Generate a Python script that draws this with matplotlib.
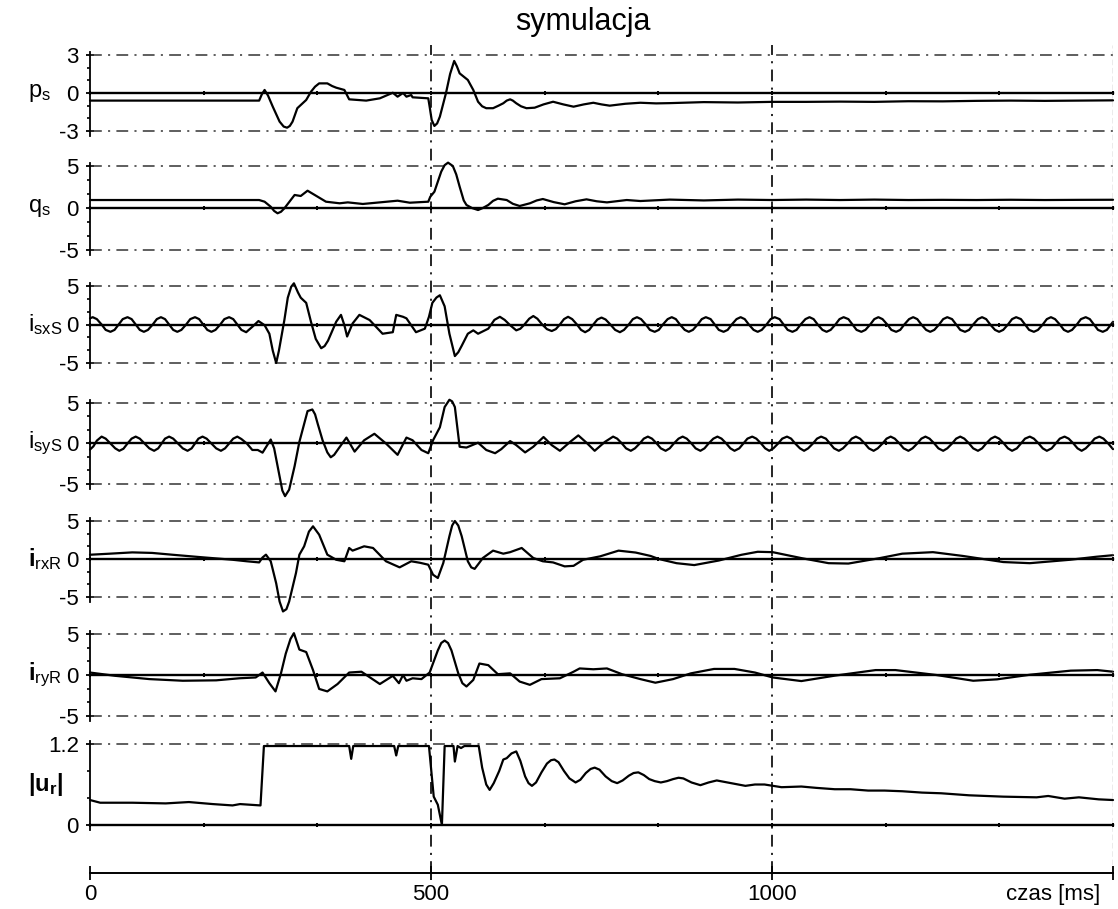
import numpy as np
import matplotlib
matplotlib.use('Agg')
import matplotlib.pyplot as plt

W, H = 1118, 909

plt.rcParams['font.family'] = 'Liberation Sans'
plt.rcParams['mathtext.fontset'] = 'custom'
plt.rcParams['mathtext.rm'] = 'Liberation Sans'
plt.rcParams['mathtext.bf'] = 'Liberation Sans:bold'
plt.rcParams['mathtext.it'] = 'Liberation Sans:italic'
plt.rcParams['axes.unicode_minus'] = False
plt.rcParams['lines.scale_dashes'] = False

TITLE = 'symulacja'
X_LABEL = 'czas [ms]'
X_TICKS = [0, 500, 1000, 1500]
X_MAX = 1500

LABELS = [r'$\mathregular{p_s}$', r'$\mathregular{q_s}$', r'$\mathregular{i_{sxS}}$',
          r'$\mathregular{i_{syS}}$', r'$\mathbf{i}_\mathregular{rxR}$',
          r'$\mathbf{i}_\mathregular{ryR}$', r'$\mathbf{|u_r|}$']
Y_LIMITS = [(-3, 3), (-5, 5), (-5, 5), (-5, 5), (-5, 5), (-5, 5), (0, 1.2)]

# (time ms, value)
ps = [(0, -0.6), (248, -0.6), (252, -0.1), (256, 0.24), (261, -0.2), (268, -1.08), (278, -2.26),
      (284, -2.65), (289, -2.74), (293, -2.6), (297, -2.26), (304, -1.2), (317, -0.55), (324, 0.1),
      (330, 0.5), (336, 0.76), (348, 0.76), (355, 0.55), (361, 0.42), (373, 0.24), (380, -0.5),
      (405, -0.6), (425, -0.42), (444, 0.02), (451, -0.29), (459, 0.0), (464, -0.29), (471, -0.16),
      (473, -0.34), (496, -0.42), (498, -1.08), (501, -2.13), (505, -2.6), (509, -2.4), (513, -1.87),
      (522, 0.0), (528, 1.5), (534, 2.53), (538, 2.1), (542, 1.55), (554, 1.03), (562, 0.24),
      (569, -0.69), (575, -1.05), (581, -1.2), (591, -1.2), (599, -1.0), (606, -0.81), (611, -0.6),
      (616, -0.5), (620, -0.6), (625, -0.81), (632, -1.05), (640, -1.2), (652, -1.16), (665, -0.9),
      (679, -0.69), (694, -0.9), (709, -1.08), (724, -0.9), (738, -0.77), (750, -0.9), (762, -1.0),
      (785, -0.85), (807, -0.77), (830, -0.82), (850, -0.8), (900, -0.72), (950, -0.75),
      (1000, -0.7), (1050, -0.7), (1100, -0.68), (1150, -0.7), (1200, -0.65), (1250, -0.66),
      (1300, -0.62), (1350, -0.6), (1400, -0.62), (1450, -0.6), (1500, -0.58)]

qs = [(0, 0.95), (248, 0.95), (256, 0.75), (265, 0.15), (270, -0.35), (275, -0.63), (280, -0.45),
      (285, -0.04), (300, 1.55), (309, 1.43), (319, 2.06), (332, 1.43), (346, 0.75), (366, 0.56),
      (378, 0.67), (400, 0.48), (425, 0.67), (451, 0.87), (469, 0.63), (496, 0.75), (499, 1.35),
      (505, 1.94), (515, 4.33), (520, 5.1), (525, 5.4), (532, 5.0), (537, 4.0), (542, 2.54),
      (548, 0.9), (552, 0.36), (560, 0.0), (569, -0.24), (576, 0.0), (584, 0.36), (591, 0.85),
      (598, 1.11), (611, 0.95), (620, 0.5), (630, 0.24), (645, 0.56), (655, 0.9), (664, 1.07),
      (680, 0.7), (696, 0.44), (712, 0.8), (728, 1.03), (743, 0.8), (758, 0.67), (787, 0.95),
      (807, 0.83), (850, 1.0), (900, 0.9), (950, 1.0), (1000, 0.95), (1050, 1.0),
      (1100, 0.95), (1150, 1.0), (1200, 0.95), (1250, 0.97), (1300, 0.95), (1350, 0.98),
      (1400, 0.95), (1450, 0.97), (1500, 0.98)]

isxs = [(0, 0.8), (4, 0.95), (10, 0.7), (17, 0), (23, -0.7), (30, -0.95), (36, -0.7), (42, 0), (48, 0.7),
        (55, 0.95), (61, 0.7), (67, 0), (73, -0.7), (79, -0.95), (85, -0.7), (92, 0), (98, 0.7),
        (104, 0.95), (110, 0.7), (116, 0), (122, -0.7), (128, -0.95), (134, -0.7), (141, 0), (147, 0.7),
        (154, 0.95), (160, 0.7), (166, 0), (172, -0.7), (178, -0.95), (184, -0.7), (191, 0), (197, 0.7),
        (204, 0.95), (210, 0.7), (216, 0), (222, -0.7), (229, -1.0), (238, -0.3), (247, 0.45),
        (256, -0.09), (263, -1.2), (268, -3.4), (273, -5.0), (277, -3.4), (285, 0.58), (290, 3.48),
        (295, 4.9), (299, 5.35), (305, 4.15), (309, 3.48), (317, 2.81), (324, 0.36), (331, -1.87),
        (339, -3.08), (344, -2.8), (349, -2.1), (361, 0.36), (368, 1.25), (373, -0.09), (377, -1.56),
        (385, 0.13), (395, 1.25), (410, 0.58), (429, -1.2), (444, -1.0), (449, 1.25), (459, 1.0),
        (464, 0.8), (478, -1.0), (491, -0.54), (497, 1.0), (502, 2.81), (508, 3.5), (513, 3.8),
        (520, 2.36), (527, -1.2), (535, -4.1), (540, -3.6), (545, -2.77), (554, -1.2), (562, -0.76),
        (569, -1.2), (584, -0.54), (593, 0.6), (601, 1.0), (608, 0.6), (616, -0.09),
        (625, -0.76), (631, -0.55), (637, 0), (644, 0.75), (650, 1.1), (656, 0.75), (663, 0),
        (670, -0.6), (677, -0.85), (683, -0.6), (689, 0), (695, 0.7), (701, 1.0), (707, 0.7), (714, 0),
        (720, -0.7), (726, -1.0), (732, -0.7), (738, 0), (744, 0.65), (750, 0.9), (756, 0.65), (763, 0),
        (770, -0.7), (777, -1.0), (783, -0.7), (790, 0), (796, 0.7), (802, 0.95), (808, 0.7), (815, 0),
        (821, -0.7), (828, -0.95), (834, -0.7), (840, 0), (847, 0.7), (853, 0.95), (859, 0.7), (865, 0),
        (872, -0.7), (878, -0.95), (884, -0.7), (891, 0), (897, 0.7), (903, 0.95), (910, 0.7), (916, 0),
        (922, -0.7), (929, -0.95), (935, -0.7), (941, 0), (948, 0.7), (954, 0.95), (960, 0.7), (966, 0),
        (973, -0.7), (979, -0.95), (985, -0.7), (992, 0), (998, 0.7), (1004, 0.95), (1011, 0.7),
        (1017, 0), (1023, -0.7), (1030, -0.95), (1036, -0.7), (1042, 0), (1049, 0.7), (1055, 0.95),
        (1061, 0.7), (1067, 0), (1074, -0.7), (1080, -0.95), (1086, -0.7), (1093, 0), (1099, 0.7),
        (1105, 0.95), (1112, 0.7), (1118, 0), (1124, -0.7), (1131, -0.95), (1137, -0.7), (1144, 0),
        (1150, 0.7), (1156, 0.95), (1162, 0.7), (1169, 0), (1175, -0.7), (1182, -0.95), (1188, -0.7),
        (1194, 0), (1201, 0.7), (1207, 0.95), (1213, 0.7), (1219, 0), (1226, -0.7), (1232, -0.95),
        (1238, -0.7), (1245, 0), (1251, 0.7), (1257, 0.95), (1264, 0.7), (1270, 0), (1276, -0.7),
        (1283, -0.95), (1289, -0.7), (1295, 0), (1302, 0.7), (1308, 0.95), (1314, 0.7), (1320, 0),
        (1327, -0.7), (1333, -0.95), (1339, -0.7), (1346, 0), (1352, 0.7), (1358, 0.95), (1365, 0.7),
        (1371, 0), (1377, -0.7), (1384, -0.95), (1390, -0.7), (1397, 0), (1403, 0.7), (1409, 0.95),
        (1415, 0.7), (1422, 0), (1428, -0.7), (1434, -0.95), (1440, -0.7), (1447, 0), (1453, 0.7),
        (1460, 0.95), (1466, 0.7), (1472, 0), (1478, -0.7), (1485, -0.95), (1491, -0.7), (1497, 0),
        (1500, 0.35)]

isys = [(0, -0.75), (5, -0.35), (10, 0.35), (17, 0.85), (23, 0.6), (30, 0), (37, -0.6), (43, -0.9),
        (49, -0.65), (55, 0), (61, 0.6), (67, 0.85), (73, 0.6), (80, 0), (87, -0.6), (94, -0.9),
        (100, -0.6), (105, 0), (110, 0.6), (116, 0.85), (122, 0.6), (129, 0), (136, -0.6), (143, -0.9),
        (149, -0.6), (154, 0), (159, 0.6), (165, 0.85), (171, 0.6), (178, 0), (185, -0.6), (192, -0.9),
        (198, -0.6), (204, 0), (210, 0.6), (216, 0.85), (222, 0.55), (230, 0), (238, -0.8), (246, -0.8),
        (253, -1.13), (265, 0.49), (270, -0.6), (278, -4.1), (282, -5.8), (286, -6.5), (292, -5.7),
        (300, -2.8), (307, 0.2), (314, 2.4), (319, 4.0), (326, 4.2), (330, 3.6), (334, 2.4), (341, 0.4),
        (348, -1.1), (353, -1.7), (358, -1.4), (363, -0.8), (376, 0.73), (388, -1.0), (402, 0.4),
        (417, 1.2), (434, 0), (451, -1.4), (464, 0.73), (473, 0.4), (486, -0.8), (496, -1.2), (503, 0.4),
        (513, 2.0), (520, 4.5), (527, 5.4), (531, 5.2), (535, 4.5), (542, -0.4), (552, -0.5), (569, 0.1),
        (581, -0.8), (594, -1.2), (603, -0.7), (616, 0.3), (625, -0.2), (638, -1.1), (650, -0.4),
        (665, 0.8), (677, -0.2), (689, -0.9), (704, 0.2), (716, 1.0), (728, 0.1), (740, -0.9),
        (755, 0.2), (767, 0.85), (773, 0.6), (780, 0), (786, -0.6), (793, -0.9),
        (799, -0.6), (806, 0), (812, 0.6), (818, 0.85), (824, 0.6), (831, 0), (837, -0.6), (844, -0.9),
        (850, -0.6), (856, 0), (863, 0.6), (869, 0.85), (875, 0.6), (882, 0), (888, -0.6), (895, -0.9),
        (901, -0.6), (907, 0), (914, 0.6), (920, 0.85), (926, 0.6), (933, 0), (939, -0.6), (945, -0.9),
        (952, -0.6), (958, 0), (964, 0.6), (971, 0.85), (977, 0.6), (984, 0), (990, -0.6), (996, -0.9),
        (1002, -0.6), (1009, 0), (1015, 0.6), (1022, 0.85), (1028, 0.6), (1034, 0), (1041, -0.6),
        (1047, -0.9), (1053, -0.6), (1060, 0), (1066, 0.6), (1072, 0.85), (1079, 0.6), (1085, 0),
        (1091, -0.6), (1098, -0.9), (1104, -0.6), (1111, 0), (1117, 0.6), (1123, 0.85), (1129, 0.6),
        (1136, 0), (1142, -0.6), (1149, -0.9), (1155, -0.6), (1162, 0), (1168, 0.6), (1174, 0.85),
        (1180, 0.6), (1187, 0), (1193, -0.6), (1200, -0.9), (1206, -0.6), (1213, 0), (1219, 0.6),
        (1225, 0.85), (1231, 0.6), (1238, 0), (1244, -0.6), (1251, -0.9), (1257, -0.6), (1264, 0),
        (1270, 0.6), (1276, 0.85), (1282, 0.6), (1289, 0), (1295, -0.6), (1302, -0.9), (1308, -0.6),
        (1314, 0), (1321, 0.6), (1327, 0.85), (1333, 0.6), (1340, 0), (1346, -0.6), (1352, -0.9),
        (1359, -0.6), (1365, 0), (1371, 0.6), (1378, 0.85), (1384, 0.6), (1391, 0), (1397, -0.6),
        (1403, -0.9), (1410, -0.6), (1416, 0), (1422, 0.6), (1429, 0.85), (1435, 0.6), (1442, 0),
        (1448, -0.6), (1454, -0.9), (1460, -0.6), (1467, 0), (1473, 0.6), (1480, 0.85), (1486, 0.6),
        (1493, 0), (1500, -0.7)]

irxr = [(0, 0.56), (29, 0.7), (62, 0.87), (91, 0.8), (121, 0.56), (160, 0.26), (209, -0.1), (230, -0.3),
        (248, -0.45), (253, 0.2), (258, 0.57), (265, -0.3), (273, -3.2), (278, -5.6), (283, -6.9),
        (288, -6.6), (292, -5.6), (302, -1.85), (307, 0.57), (314, 1.67), (321, 3.6), (327, 4.3),
        (336, 3.2), (348, 0.57), (361, -0.1), (373, -0.3), (380, 1.45), (385, 1.1), (402, 1.67),
        (415, 1.45), (434, -0.3), (454, -1.1), (471, -0.3), (484, -0.5), (496, -0.75), (503, -2.07),
        (510, -2.5), (518, -0.53), (527, 3.0), (531, 4.4), (535, 5.0), (540, 4.4), (545, 3.0),
        (554, -0.3), (559, -1.1), (564, -1.3), (570, -0.6), (576, 0.13), (591, 1.1), (606, 0.7),
        (616, 0.9), (633, 1.45), (650, 0.13), (664, -0.3), (679, -0.45), (696, -0.97), (709, -0.9),
        (723, -0.1), (748, 0.35), (775, 1.1), (800, 0.85), (822, 0.4), (834, 0), (860, -0.55),
        (886, -0.8), (922, -0.2), (955, 0.55), (979, 0.95), (1001, 0.9), (1044, 0.1), (1083, -0.55),
        (1112, -0.6), (1157, 0.1), (1191, 0.7), (1236, 0.9), (1280, 0.4), (1339, -0.4), (1378, -0.55),
        (1437, -0.1), (1476, 0.3), (1500, 0.5)]

iryr = [(0, 0.3), (37, -0.1), (87, -0.5), (136, -0.7), (185, -0.65), (219, -0.4), (243, -0.3), (253, 0.3),
        (263, -1.0), (272, -2.0), (280, 0.2), (287, 2.6), (294, 4.4), (299, 5.1), (307, 3.1), (317, 2.8),
        (327, 0.6), (336, -1.7), (348, -2.0), (363, -1.1), (380, 0.3), (398, 0.4), (425, -1.1),
        (444, -0.1), (453, -1.0), (459, 0), (464, -0.7), (473, -0.4), (486, -0.5), (498, 0.3), (510, 3.0),
        (515, 3.9), (520, 4.2), (525, 3.9), (530, 3.0), (540, 0.2), (546, -1.0), (552, -1.4), (562, -0.6),
        (571, 1.4), (584, 1.2), (598, 0.1), (616, 0.2), (630, -0.8), (645, -1.2), (662, -0.5), (689, -0.4),
        (709, 0.4), (718, 0.8), (738, 0.7), (758, 0.8), (780, 0.1), (807, -0.5), (829, -0.94), (855, -0.5),
        (881, 0.2), (915, 0.74), (945, 0.74), (975, 0.3), (1001, -0.3), (1043, -0.74), (1092, -0.08),
        (1152, 0.6), (1181, 0.6), (1241, 0), (1295, -0.7), (1330, -0.53), (1379, 0.04), (1438, 0.53),
        (1477, 0.6), (1500, 0.4)]

ur = [(0, 0.37), (15, 0.33), (62, 0.33), (111, 0.32), (145, 0.34), (180, 0.31), (209, 0.29), (220, 0.31),
      (250, 0.29), (255, 1.17), (380, 1.17), (383, 0.98), (386, 1.17), (446, 1.17), (449, 1.03),
      (452, 1.17), (497, 1.17), (504, 0.42), (510, 0.3), (516, 0), (520, 1.17), (533, 1.17),
      (535, 0.94), (539, 1.17), (544, 1.14), (549, 1.17), (570, 1.17), (575, 0.85), (581, 0.6),
      (586, 0.52), (592, 0.62), (600, 0.8), (606, 0.97), (611, 0.99), (618, 1.06), (625, 1.09),
      (631, 0.95), (638, 0.72), (643, 0.62), (648, 0.58), (654, 0.63), (662, 0.78), (670, 0.91),
      (676, 0.96), (681, 0.97), (687, 0.93), (695, 0.8), (703, 0.69), (712, 0.63), (719, 0.67),
      (727, 0.77), (734, 0.83), (740, 0.85), (747, 0.82), (756, 0.72), (765, 0.65), (773, 0.62),
      (781, 0.66), (790, 0.73), (797, 0.77), (804, 0.78), (812, 0.74), (820, 0.68), (828, 0.65),
      (837, 0.63), (846, 0.65), (855, 0.68), (863, 0.7), (870, 0.69), (882, 0.63), (895, 0.59),
      (907, 0.63), (919, 0.66), (940, 0.62), (961, 0.58), (975, 0.6), (989, 0.6), (1014, 0.56),
      (1043, 0.57), (1065, 0.55), (1092, 0.53), (1115, 0.53), (1141, 0.51), (1165, 0.51), (1191, 0.5),
      (1220, 0.48), (1248, 0.47), (1289, 0.44), (1339, 0.42), (1388, 0.41), (1405, 0.43), (1429, 0.39),
      (1450, 0.41), (1479, 0.38), (1500, 0.37)]

SERIES = [ps, qs, isxs, isys, irxr, iryr, ur]

# pixel rows of the upper and lower limit of each panel
PANEL_PX = [(55, 131), (166, 250), (286, 363), (403, 484), (521, 597), (634, 716), (744, 825)]
X0, X1 = 90, 1113
DASHDOT = (0, (8.5, 4.5, 1.5, 4.5))

fig = plt.figure(figsize=(W / 100, H / 100), dpi=100)
fig.text(583 / W, 1 - 22 / H, TITLE, ha='center', va='center', fontsize=22)

for (top, bot), (lo, hi), label, data in zip(PANEL_PX, Y_LIMITS, LABELS, SERIES):
    scale = (bot - top) / (hi - lo)
    ax = fig.add_axes([X0 / W, 1 - (bot + 5) / H, (X1 - X0) / W, (bot - top + 8) / H])
    ax.set_xlim(0, X_MAX)
    ax.set_ylim(lo - 5 / scale, hi + 3 / scale)
    ax.patch.set_visible(False)
    ax.spines['top'].set_visible(False)
    ax.spines['right'].set_visible(False)
    ax.spines['bottom'].set_position(('data', 0))
    ax.spines['bottom'].set_linewidth(1.7)
    ax.spines['left'].set_linewidth(1.3)
    ax.set_xticks(np.linspace(0, X_MAX, 10))
    ax.set_xticklabels([])
    ax.tick_params(axis='x', direction='inout', length=3.5, width=1.4)

    major = [lo, 0, hi] if lo < 0 else [0, hi]
    step = hi / 3
    minor = [v for v in np.arange(lo, hi + step / 2, step) if min(abs(v - m) for m in major) > 1e-6]
    ax.set_yticks(major)
    ax.set_yticklabels([f'{v:g}' for v in major])
    ax.set_yticks(minor, minor=True)
    ax.tick_params(axis='y', which='major', direction='inout', length=6, width=1.3,
                   labelsize=16, pad=5)
    ax.tick_params(axis='y', which='minor', direction='out', length=2.5, width=1.2)

    ax.axhline(hi, ls=DASHDOT, color='#333333', lw=1.1)
    if lo < 0:
        ax.axhline(lo, ls=DASHDOT, color='#333333', lw=1.1)

    t, v = zip(*data)
    ax.plot(t, v, color='black', lw=1.6, clip_on=False, zorder=3,
            solid_joinstyle='round', solid_capstyle='round')

    ylab = top + hi * scale if lo < 0 else 785
    fig.text(28 / W, 1 - ylab / H, label, ha='left', va='center', fontsize=17)

# vertical markers through all panels
ov = fig.add_axes([X0 / W, 1 - 873 / H, (X1 - X0) / W, (873 - 45) / H])
ov.set_xlim(0, X_MAX)
ov.set_ylim(0, 1)
ov.axis('off')
for xv in X_TICKS[1:-1]:
    ov.axvline(xv, ls=DASHDOT, color='black', lw=1.2)
ov.axvline(X_MAX, ls=(0, (4, 2)), color='#999999', lw=1.0)

# time axis
axb = fig.add_axes([X0 / W, 1 - 873 / H, (X1 - X0) / W, 0.01])
axb.set_xlim(0, X_MAX)
axb.patch.set_visible(False)
for s in ['top', 'right', 'left']:
    axb.spines[s].set_visible(False)
axb.spines['bottom'].set_linewidth(1.4)
axb.set_yticks([])
axb.set_xticks(X_TICKS)
axb.set_xticklabels([f'{x}' for x in X_TICKS[:-1]] + [''])
axb.tick_params(axis='x', direction='inout', length=10, width=1.3, labelsize=16, pad=3)
axb.annotate(X_LABEL, xy=(1, 0), xycoords='axes fraction', xytext=(-9, -8),
             textcoords='offset points', ha='right', va='top', fontsize=16)

fig.savefig('out.png', dpi=100)
